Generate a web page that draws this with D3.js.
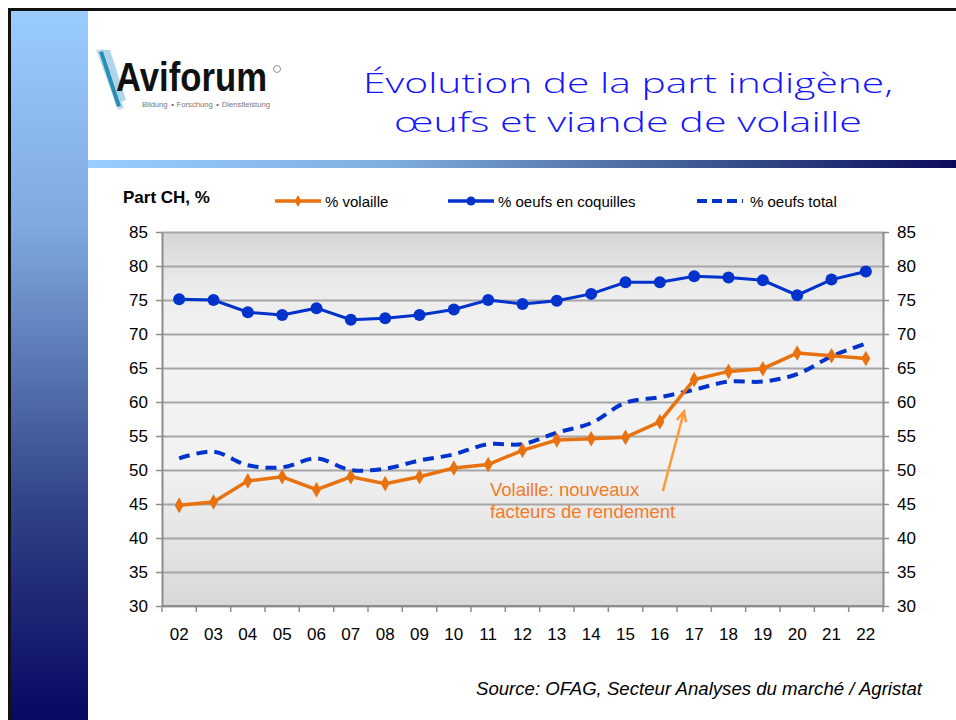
<!DOCTYPE html>
<html>
<head>
<meta charset="utf-8">
<script src="https://cdn.jsdelivr.net/npm/d3@7"></script>
<style>
    body { margin: 0; background: #fff; }
    svg { display: block; font-family: "Liberation Sans", Arial, sans-serif; }
</style>
</head>
<body>
<div id="slide"></div>
<script>
// values (Part CH, %)
const years = ['02', '03', '04', '05', '06', '07', '08', '09', '10', '11', '12',
    '13', '14', '15', '16', '17', '18', '19', '20', '21', '22'];
const volaille = [44.8, 45.3, 48.4, 49.0, 47.1, 49.0, 48.0, 49.0, 50.3, 50.8, 52.9,
    54.4, 54.6, 54.8, 57.1, 63.3, 64.5, 64.9, 67.2, 66.8, 66.4];
const oeufsCoquilles = [75.1, 75.0, 73.2, 72.8, 73.8, 72.1, 72.3, 72.8, 73.6, 75.0, 74.4,
    74.9, 75.9, 77.6, 77.6, 78.5, 78.3, 77.9, 75.7, 78.0, 79.2];
const oeufsTotal = [51.7, 52.7, 50.7, 50.4, 51.7, 50.0, 50.2, 51.4, 52.3, 53.8, 53.8,
    55.5, 56.9, 59.9, 60.7, 61.8, 63.0, 63.0, 64.1, 66.7, 68.6];
const yTicks = [30, 35, 40, 45, 50, 55, 60, 65, 70, 75, 80, 85];
const legendLabels = ['% volaille', '% oeufs en coquilles', '% oeufs total'];
const titleLines = ['Évolution de la part indigène,', 'œufs et viande de volaille'];
const annotationLines = ['Volaille: nouveaux', 'facteurs de rendement'];
const sourceText = 'Source: OFAG, Secteur Analyses du marché / Agristat';

const ORANGE = '#e8720f';
const BLUE = '#0033cc';

const W = 956, H = 720;
const plot = { left: 162, right: 883, top: 232, bottom: 606 };

const svg = d3.select('#slide').append('svg')
    .attr('width', W)
    .attr('height', H);

const defs = svg.append('defs');

const sideGrad = defs.append('linearGradient')
    .attr('id', 'side-grad')
    .attr('x1', '0%').attr('y1', '0%').attr('x2', '0%').attr('y2', '100%');
sideGrad.append('stop').attr('offset', '0%').attr('stop-color', '#9accfe');
sideGrad.append('stop').attr('offset', '30%').attr('stop-color', '#7fa9e0');
sideGrad.append('stop').attr('offset', '70%').attr('stop-color', '#2f3f85');
sideGrad.append('stop').attr('offset', '100%').attr('stop-color', '#050560');

const barGrad = defs.append('linearGradient')
    .attr('id', 'bar-grad')
    .attr('x1', '0%').attr('y1', '0%').attr('x2', '100%').attr('y2', '0%');
barGrad.append('stop').attr('offset', '0%').attr('stop-color', '#99ccff');
barGrad.append('stop').attr('offset', '35%').attr('stop-color', '#7faede');
barGrad.append('stop').attr('offset', '70%').attr('stop-color', '#3f5a92');
barGrad.append('stop').attr('offset', '100%').attr('stop-color', '#0a0a5c');

const plotGrad = defs.append('linearGradient')
    .attr('id', 'plot-grad')
    .attr('x1', '0%').attr('y1', '0%').attr('x2', '0%').attr('y2', '100%');
plotGrad.append('stop').attr('offset', '0%').attr('stop-color', '#d5d5d5');
plotGrad.append('stop').attr('offset', '14%').attr('stop-color', '#ebebeb');
plotGrad.append('stop').attr('offset', '28%').attr('stop-color', '#f2f2f2');
plotGrad.append('stop').attr('offset', '62%').attr('stop-color', '#f2f2f2');
plotGrad.append('stop').attr('offset', '100%').attr('stop-color', '#d8d8d8');

// slide frame
svg.append('rect')
    .attr('x', 9.5).attr('y', 9.5)
    .attr('width', W + 20).attr('height', H + 20)
    .attr('fill', '#fff')
    .attr('stroke', '#111')
    .attr('stroke-width', 3);
svg.append('rect')
    .attr('x', 11).attr('y', 11)
    .attr('width', 77).attr('height', H)
    .attr('fill', 'url(#side-grad)');
svg.append('rect')
    .attr('x', 88).attr('y', 160)
    .attr('width', W - 88).attr('height', 8)
    .attr('fill', 'url(#bar-grad)');

// logo
const logo = svg.append('g').attr('class', 'logo');
logo.append('path')
    .attr('d', 'M96,50 L104,49 L124,108 L118,110 Z')
    .attr('fill', '#bcd9ec').attr('opacity', 0.9);
logo.append('path')
    .attr('d', 'M99,52 L103,51 L121,106 L117,107 Z')
    .attr('fill', '#2a8fb5');
logo.append('path')
    .attr('d', 'M104,50 L110,50 L126,100 L121,102 Z')
    .attr('fill', '#8cc3e0').attr('opacity', 0.7);
logo.append('text')
    .attr('x', 116).attr('y', 91)
    .attr('font-size', 40)
    .attr('font-weight', 'bold')
    .attr('textLength', 151)
    .attr('lengthAdjust', 'spacingAndGlyphs')
    .attr('fill', '#111')
    .text('Aviforum');
logo.append('circle')
    .attr('cx', 277).attr('cy', 69).attr('r', 3.5)
    .attr('fill', 'none').attr('stroke', '#777').attr('stroke-width', 0.8);
logo.append('text')
    .attr('x', 142).attr('y', 106.5)
    .attr('font-size', 6.5)
    .attr('textLength', 128)
    .attr('lengthAdjust', 'spacingAndGlyphs')
    .attr('fill', '#777')
    .text('Bildung ∘ Forschung ∘ Dienstleistung');

// title
svg.append('g').selectAll('text')
    .data(titleLines)
    .join('text')
    .attr('x', 628)
    .attr('y', (d, i) => 93 + i * 39)
    .attr('text-anchor', 'middle')
    .attr('font-family', '"Open Sans", "Noto Sans", "DejaVu Sans", sans-serif')
    .attr('font-weight', 300)
    .attr('font-size', 28)
    .attr('textLength', (d, i) => i === 0 ? 530 : 468)
    .attr('lengthAdjust', 'spacingAndGlyphs')
    .attr('fill', '#1414ff')
    .text(d => d);

// scales
const x = d3.scaleBand()
    .domain(years)
    .range([plot.left, plot.right])
    .padding(0);
const y = d3.scaleLinear()
    .domain([30, 85])
    .range([plot.bottom, plot.top]);
const cx = d => x(d) + x.bandwidth() / 2;

svg.append('rect')
    .attr('x', plot.left).attr('y', plot.top)
    .attr('width', plot.right - plot.left)
    .attr('height', plot.bottom - plot.top)
    .attr('fill', 'url(#plot-grad)');

// gridlines + left / right axes
const gridAxis = d3.axisLeft(y)
    .tickValues(yTicks)
    .tickSize(-(plot.right - plot.left))
    .tickFormat('');
svg.append('g')
    .attr('transform', `translate(${plot.left},0)`)
    .call(gridAxis)
    .call(g => g.select('.domain').remove())
    .selectAll('line')
    .attr('stroke', '#a6a6a6')
    .attr('stroke-width', 2);

function styleAxis(g) {
    g.select('.domain').attr('stroke', '#8c8c8c').attr('stroke-width', 2);
    g.selectAll('.tick line').attr('stroke', '#8c8c8c').attr('stroke-width', 1.5);
    g.selectAll('.tick text')
        .attr('font-size', 17)
        .attr('font-family', '"Liberation Sans", Arial, sans-serif')
        .attr('fill', '#000');
}

svg.append('g')
    .attr('transform', `translate(${plot.left},0)`)
    .call(d3.axisLeft(y).tickValues(yTicks).tickSize(6).tickPadding(8).tickSizeOuter(0))
    .call(styleAxis);
svg.append('g')
    .attr('transform', `translate(${plot.right},0)`)
    .call(d3.axisRight(y).tickValues(yTicks).tickSize(6).tickPadding(8).tickSizeOuter(0))
    .call(styleAxis);

// x axis: ticks between categories
const xAxis = svg.append('g')
    .attr('transform', `translate(0,${plot.bottom})`);
xAxis.append('line')
    .attr('x1', plot.left).attr('x2', plot.right)
    .attr('stroke', '#8c8c8c').attr('stroke-width', 2);
xAxis.selectAll('.xtick')
    .data(years.concat(['end']))
    .join('line')
    .attr('class', 'xtick')
    .attr('x1', (d, i) => i < years.length ? x(d) : plot.right)
    .attr('x2', (d, i) => i < years.length ? x(d) : plot.right)
    .attr('y1', 0).attr('y2', 6)
    .attr('stroke', '#8c8c8c').attr('stroke-width', 1.5);
xAxis.selectAll('text')
    .data(years)
    .join('text')
    .attr('x', d => cx(d))
    .attr('y', 34)
    .attr('text-anchor', 'middle')
    .attr('font-size', 17)
    .text(d => d);

// series
const seriesLine = d3.line()
    .x((d, i) => cx(years[i]))
    .y(d => y(d));

svg.append('path')
    .datum(oeufsTotal)
    .attr('fill', 'none')
    .attr('stroke', BLUE)
    .attr('stroke-width', 4)
    .attr('stroke-dasharray', '11,7')
    .attr('d', seriesLine.curve(d3.curveCatmullRom.alpha(0.5)));

seriesLine.curve(d3.curveLinear);

svg.append('path')
    .datum(oeufsCoquilles)
    .attr('fill', 'none')
    .attr('stroke', BLUE)
    .attr('stroke-width', 3)
    .attr('d', seriesLine);
svg.append('g').selectAll('circle')
    .data(oeufsCoquilles)
    .join('circle')
    .attr('cx', (d, i) => cx(years[i]))
    .attr('cy', d => y(d))
    .attr('r', 6)
    .attr('fill', BLUE);

svg.append('path')
    .datum(volaille)
    .attr('fill', 'none')
    .attr('stroke', ORANGE)
    .attr('stroke-width', 3.5)
    .attr('d', seriesLine);
const diamond = d3.symbol().type(d3.symbolDiamond).size(70);
svg.append('g').selectAll('path')
    .data(volaille)
    .join('path')
    .attr('transform', (d, i) => `translate(${cx(years[i])},${y(d)})`)
    .attr('d', diamond)
    .attr('fill', ORANGE);

// annotation
const ann = svg.append('g').attr('fill', '#f57a25');
ann.selectAll('text')
    .data(annotationLines)
    .join('text')
    .attr('x', x('11') + 19)
    .attr('y', (d, i) => y(46.2) + i * 22)
    .attr('font-size', 18.5)
    .text(d => d);
const tail = [cx('16') + 3, y(46.9)];
const tip = [x('17') + 7, y(58.6)];
const ang = Math.atan2(tip[1] - tail[1], tip[0] - tail[0]);
const head = 11;
svg.append('line')
    .attr('x1', tail[0]).attr('y1', tail[1])
    .attr('x2', tip[0]).attr('y2', tip[1])
    .attr('stroke', '#ff9a3c').attr('stroke-width', 2.5);
svg.append('polyline')
    .attr('points', [
        [tip[0] - head * Math.cos(ang - 0.45), tip[1] - head * Math.sin(ang - 0.45)],
        tip,
        [tip[0] - head * Math.cos(ang + 0.45), tip[1] - head * Math.sin(ang + 0.45)]
    ].map(p => p.join(',')).join(' '))
    .attr('fill', 'none')
    .attr('stroke', '#ff9a3c').attr('stroke-width', 2.5);

// y label + legend
svg.append('text')
    .attr('x', 123).attr('y', 203)
    .attr('font-size', 17)
    .attr('font-weight', 'bold')
    .text('Part CH, %');

const legendX = [275, 448, 697];
const legend = svg.append('g').attr('transform', 'translate(0,201)');
legendLabels.forEach((label, i) => {
    const g = legend.append('g').attr('transform', `translate(${legendX[i]},0)`);
    g.append('line')
        .attr('x1', 0).attr('x2', 46)
        .attr('stroke', i === 0 ? ORANGE : BLUE)
        .attr('stroke-width', i === 2 ? 4 : 3.5)
        .attr('stroke-dasharray', i === 2 ? '10,5' : null);
    if (i === 0) {
        g.append('path').attr('transform', 'translate(23,0)')
            .attr('d', d3.symbol().type(d3.symbolDiamond).size(40)).attr('fill', ORANGE);
    } else if (i === 1) {
        g.append('circle').attr('cx', 23).attr('r', 4.5).attr('fill', BLUE);
    }
    g.append('text')
        .attr('x', i === 2 ? 53 : 50)
        .attr('y', 6)
        .attr('font-size', 15)
        .text(label);
});

// source
svg.append('text')
    .attr('x', 922).attr('y', 695)
    .attr('text-anchor', 'end')
    .attr('font-size', 17.5)
    .attr('font-style', 'italic')
    .attr('textLength', 446)
    .attr('lengthAdjust', 'spacingAndGlyphs')
    .text(sourceText);
</script>
</body>
</html>
